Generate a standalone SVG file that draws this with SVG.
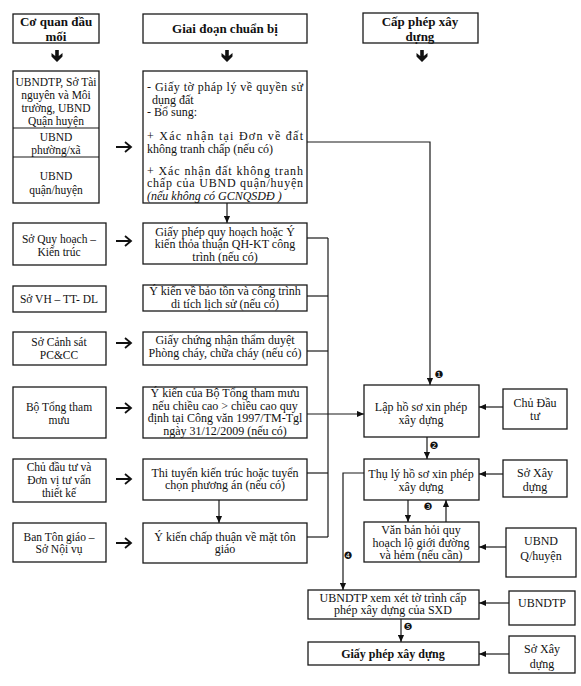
<svg xmlns="http://www.w3.org/2000/svg" width="581" height="686" viewBox="0 0 581 686">
<defs>
<style>
.box{fill:#fff;stroke:#1a1a1a;stroke-width:1.3}
.t{font-family:"Liberation Serif","Times New Roman",serif;font-size:12px;fill:#111;text-anchor:middle}
.s{font-size:11.5px}
.l{text-anchor:start}
.b{font-weight:bold;font-size:13px}
.i{font-style:italic}
.c{fill:none;stroke:#1a1a1a;stroke-width:1.2}
.n{font-family:"DejaVu Sans",sans-serif;font-size:10px;fill:#111;text-anchor:middle}
.tk{fill:#111}
</style>
<marker id="ah" viewBox="0 0 8 8" refX="8" refY="4" markerWidth="7" markerHeight="7" markerUnits="userSpaceOnUse" orient="auto">
<path d="M0,0.5 L8,4 L0,7.5 Z" fill="#111"/>
</marker>
<path id="thick" d="M-1.8,0 H1.8 V6 L5.5,3 L5.5,6.5 L0,12 L-5.5,6.5 L-5.5,3 L-1.8,6 Z"/>
<path id="sarr" d="M0,0 H15 M9,-5 L15,0 L9,5"/>
</defs>
<rect width="581" height="686" fill="#fff"/>

<g id="connectors">
<use href="#thick" x="57" y="50" class="tk"/>
<use href="#thick" x="227" y="50" class="tk"/>
<use href="#thick" x="422" y="50" class="tk"/>
<g fill="none" stroke="#111" stroke-width="1.8">
<use href="#sarr" x="116" y="147"/>
<use href="#sarr" x="116" y="241"/>
<use href="#sarr" x="116" y="343"/>
<use href="#sarr" x="116" y="408"/>
<use href="#sarr" x="116" y="479"/>
<use href="#sarr" x="116" y="543"/>
</g>
<polyline class="c" points="307,142 430,142 430,385" marker-end="url(#ah)"/>
<line class="c" x1="227" y1="203" x2="227" y2="223" marker-end="url(#ah)"/>
<line class="c" x1="219" y1="500" x2="219" y2="523" marker-end="url(#ah)"/>
<line class="c" x1="328" y1="238" x2="328" y2="537"/>
<line class="c" x1="307" y1="238" x2="328" y2="238"/>
<line class="c" x1="307" y1="296" x2="328" y2="296"/>
<line class="c" x1="307" y1="351" x2="328" y2="351"/>
<line class="c" x1="307" y1="473" x2="328" y2="473"/>
<line class="c" x1="307" y1="537" x2="328" y2="537"/>
<line class="c" x1="307" y1="414" x2="364" y2="414" marker-end="url(#ah)"/>
<line class="c" x1="503" y1="407" x2="479" y2="407" marker-end="url(#ah)"/>
<line class="c" x1="427" y1="437" x2="427" y2="459" marker-end="url(#ah)"/>
<line class="c" x1="503" y1="474" x2="479" y2="474" marker-end="url(#ah)"/>
<line class="c" x1="408" y1="500" x2="408" y2="522" marker-end="url(#ah)"/>
<line class="c" x1="446" y1="522" x2="446" y2="500" marker-end="url(#ah)"/>
<line class="c" x1="506" y1="547" x2="479" y2="547" marker-end="url(#ah)"/>
<polyline class="c" points="364,473 343,473 343,590" marker-end="url(#ah)"/>
<line class="c" x1="509" y1="603" x2="479" y2="603" marker-end="url(#ah)"/>
<line class="c" x1="401" y1="619" x2="401" y2="642" marker-end="url(#ah)"/>
<line class="c" x1="509" y1="654" x2="479" y2="654" marker-end="url(#ah)"/>
<text class="n" x="439" y="378">❶</text>
<text class="n" x="434" y="449">❷</text>
<text class="n" x="428" y="510">❸</text>
<text class="n" x="348" y="559">❹</text>
<text class="n" x="408" y="630">❺</text>
</g>

<g id="h1"><rect class="box" x="13" y="14" width="86" height="29"/>
<text class="t b" x="56" y="26">Cơ quan đầu</text><text class="t b" x="56" y="40.5">mối</text></g>
<g id="h2"><rect class="box" x="143" y="14" width="164" height="29"/>
<text class="t b" x="225" y="33">Giai đoạn chuẩn bị</text></g>
<g id="h3"><rect class="box" x="363" y="13" width="115" height="30"/>
<text class="t b" x="420" y="26">Cấp phép xây</text><text class="t b" x="420" y="40.5">dựng</text></g>

<g id="left-stack"><rect class="box" x="13" y="71" width="86" height="132"/>
<line class="c" x1="13" y1="128" x2="99" y2="128"/><line class="c" x1="13" y1="157" x2="99" y2="157"/>
<text class="t s" x="56" y="86">UBNDTP, Sở Tài</text>
<text class="t s" x="56" y="99">nguyên và Môi</text>
<text class="t s" x="56" y="112">trường, UBND</text>
<text class="t s" x="56" y="125">Quận huyện</text>
<text class="t s" x="56" y="141">UBND</text>
<text class="t s" x="56" y="153.5">phường/xã</text>
<text class="t s" x="56" y="180">UBND</text>
<text class="t s" x="56" y="194">quận/huyện</text></g>

<g id="p1"><rect class="box" x="143" y="71" width="164" height="132"/>
<text class="t l" x="147" y="91" textLength="156" lengthAdjust="spacing">- Giấy tờ pháp lý về quyền sử</text>
<text class="t l" x="152" y="103.5">dụng đất</text>
<text class="t l" x="147" y="116">- Bổ sung:</text>
<text class="t l" x="147" y="140" textLength="156" lengthAdjust="spacing">+ Xác nhận tại Đơn về đất</text>
<text class="t l" x="147" y="152.5">không tranh chấp (nếu có)</text>
<text class="t l" x="147" y="174.5" textLength="156" lengthAdjust="spacing">+ Xác nhận đất không tranh</text>
<text class="t l" x="147" y="187" textLength="156" lengthAdjust="spacing">chấp của UBND quận/huyện</text>
<text class="t l i" x="147" y="199.5">(nếu không có GCNQSDĐ )</text></g>

<g id="a2"><rect class="box" x="13" y="223" width="93" height="42"/>
<text class="t s" x="59" y="243">Sở Quy hoạch –</text><text class="t s" x="59" y="256">Kiến trúc</text></g>
<g id="p2"><rect class="box" x="143" y="223" width="164" height="41"/>
<text class="t" x="225" y="235.5">Giấy phép quy hoạch hoặc Ý</text>
<text class="t" x="225" y="248">kiến thỏa thuận QH-KT công</text>
<text class="t" x="225" y="260.5">trình  (nếu có)</text></g>

<g id="a3"><rect class="box" x="13" y="286" width="93" height="26"/>
<text class="t s" x="59" y="303">Sở VH – TT- DL</text></g>
<g id="p3"><rect class="box" x="143" y="285" width="164" height="26"/>
<text class="t" x="225" y="295">Ý kiến về bảo tồn và công trình</text>
<text class="t" x="225" y="307.5">di tích lịch sử (nếu có)</text></g>

<g id="a4"><rect class="box" x="13" y="332" width="93" height="33"/>
<text class="t s" x="59" y="346">Sở Cảnh sát</text><text class="t s" x="59" y="359">PC&amp;CC</text></g>
<g id="p4"><rect class="box" x="143" y="332" width="164" height="33"/>
<text class="t" x="225" y="343.5">Giấy chứng nhận thẩm duyệt</text>
<text class="t" x="225" y="357">Phòng cháy, chữa cháy (nếu có)</text></g>

<g id="a5"><rect class="box" x="13" y="387" width="93" height="51"/>
<text class="t s" x="59" y="411">Bộ Tổng tham</text><text class="t s" x="59" y="424">mưu</text></g>
<g id="p5"><rect class="box" x="143" y="387" width="164" height="51"/>
<text class="t" x="225" y="397">Ý kiến của Bộ Tổng tham mưu</text>
<text class="t" x="225" y="409.5">nếu chiều cao &gt; chiều cao quy</text>
<text class="t" x="225" y="422">định tại Công văn 1997/TM-Tgl</text>
<text class="t" x="225" y="434.5">ngày 31/12/2009 (nếu có)</text></g>

<g id="a6"><rect class="box" x="13" y="459" width="93" height="43"/>
<text class="t s" x="59" y="471">Chủ đầu tư và</text><text class="t s" x="59" y="484">Đơn vị tư vấn</text><text class="t s" x="59" y="497">thiết kế</text></g>
<g id="p6"><rect class="box" x="143" y="459" width="164" height="41"/>
<text class="t" x="225" y="476.5">Thi tuyển kiến trúc hoặc tuyển</text>
<text class="t" x="225" y="489">chọn phương án (nếu có)</text></g>

<g id="a7"><rect class="box" x="13" y="523" width="93" height="39"/>
<text class="t s" x="59" y="540.5">Ban Tôn giáo –</text><text class="t s" x="59" y="553">Sở Nội vụ</text></g>
<g id="p7"><rect class="box" x="143" y="523" width="164" height="40"/>
<text class="t" x="225" y="540.5">Ý kiến chấp thuận về mặt tôn</text>
<text class="t" x="225" y="553">giáo</text></g>

<g id="r1"><rect class="box" x="364" y="385" width="115" height="52"/>
<text class="t" x="421" y="411">Lập hồ sơ xin phép</text><text class="t" x="421" y="424">xây dựng</text></g>
<g id="s1"><rect class="box" x="503" y="389" width="64" height="40"/>
<text class="t" x="535" y="407">Chủ Đầu</text><text class="t" x="535" y="420">tư</text></g>

<g id="r2"><rect class="box" x="364" y="459" width="115" height="41"/>
<text class="t" x="421" y="477.5">Thụ lý hồ sơ xin phép</text><text class="t" x="421" y="490.5">xây dựng</text></g>
<g id="s2"><rect class="box" x="503" y="460" width="64" height="37"/>
<text class="t" x="535" y="477">Sở Xây</text><text class="t" x="535" y="490.5">dựng</text></g>

<g id="r3"><rect class="box" x="364" y="522" width="115" height="40"/>
<text class="t" x="421" y="534">Văn bản hỏi quy</text>
<text class="t" x="421" y="546.5">hoạch lộ giới đường</text>
<text class="t" x="421" y="559">và hẻm (nếu cần)</text></g>
<g id="s3"><rect class="box" x="506" y="528" width="70" height="49"/>
<text class="t" x="541" y="545">UBND</text><text class="t" x="541" y="560">Q/huyện</text></g>

<g id="r4"><rect class="box" x="308" y="590" width="171" height="29"/>
<text class="t" x="393" y="601.5">UBNDTP xem xét tờ trình cấp</text>
<text class="t" x="393" y="614">phép xây dựng của SXD</text></g>
<g id="s4"><rect class="box" x="509" y="591" width="66" height="34"/>
<text class="t" x="542" y="607">UBNDTP</text></g>

<g id="r5"><rect class="box" x="308" y="642" width="171" height="23"/>
<text class="t b" x="393" y="658" style="font-size:12px">Giấy phép xây dựng</text></g>
<g id="s5"><rect class="box" x="509" y="636" width="66" height="37"/>
<text class="t" x="542" y="653">Sở Xây</text><text class="t" x="542" y="668">dựng</text></g>
</svg>
